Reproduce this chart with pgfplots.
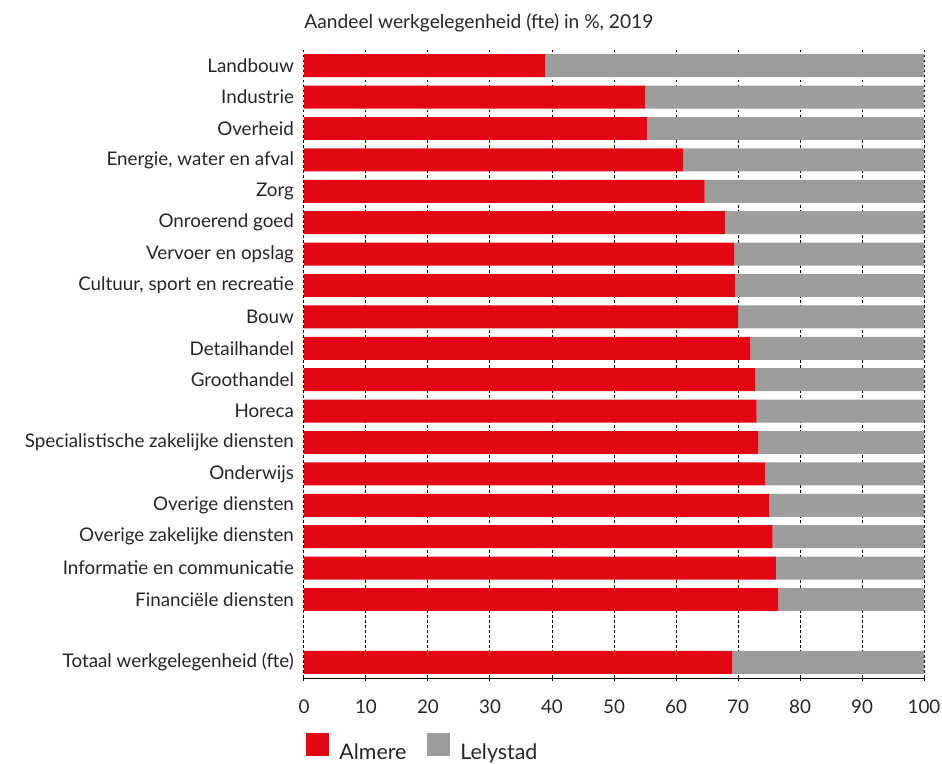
\documentclass[border=0pt]{standalone}
\usepackage{fontspec}
\setmainfont{Lato}
\usepackage{pgfplots}
\usepackage{pgfplotstable}
\pgfplotsset{compat=1.18}

\definecolor{almere}{HTML}{E30613}
\definecolor{lelystad}{HTML}{9D9D9C}
\definecolor{txt}{HTML}{262626}

% y = row position (18 is the empty gap row)
\pgfplotstableread{
y almere lelystad
0 38.9 61.1
1 55.0 45.0
2 55.4 44.6
3 61.2 38.8
4 64.6 35.4
5 67.9 32.1
6 69.4 30.6
7 69.5 30.5
8 70.0 30.0
9 72.0 28.0
10 72.8 27.2
11 73.0 27.0
12 73.3 26.7
13 74.4 25.6
14 75.0 25.0
15 75.6 24.4
16 76.1 23.9
17 76.5 23.5
19 69.1 30.9
}\shares

\begin{document}
\begin{tikzpicture}
\begin{axis}[
    name=ax,
    scale only axis,
    width=310pt, height=314pt,
    xbar stacked,
    bar width=0.73,
    y dir=reverse,
    xmin=0, xmax=100,
    ymin=-0.5, ymax=19.5,
    xtick={0,10,...,100},
    ytick={0,1,...,17,19},
    yticklabels={Landbouw,Industrie,Overheid,{Energie, water en afval},Zorg,
      Onroerend goed,Vervoer en opslag,{Cultuur, sport en recreatie},Bouw,
      Detailhandel,Groothandel,Horeca,Specialistische zakelijke diensten,
      Onderwijs,Overige diensten,Overige zakelijke diensten,
      Informatie en communicatie,Financiële diensten,Totaal werkgelegenheid (fte)},
    axis x line*=bottom,
    axis y line*=left,
    y axis line style={draw=none},
    x axis line style={black, line width=0.5pt},
    tick align=outside,
    major tick length=1.5pt,
    xtick style={black, line width=0.5pt},
    ytick style={draw=none},
    xmajorgrids,
    major grid style={black, line width=0.5pt, dash pattern=on 1.25pt off 1.25pt},
    tick label style={font=\fontsize{9.4}{11}\selectfont, text=txt},
    /pgf/number format/assume math mode=true,
    xticklabel style={yshift=-6pt},
    title={Aandeel werkgelegenheid (fte) in \%, 2019},
    title style={at={(0,1)}, anchor=base west, yshift=4.5pt,
      font=\fontsize{9.6}{11}\selectfont, text=txt, inner sep=0pt},
    legend style={at={(0,0)}, anchor=north west, yshift=-27.5pt, xshift=1pt,
      draw=none, inner sep=0pt, font=\fontsize{10.7}{12}\selectfont, text=txt,
      /tikz/every even column/.append style={column sep=8.5pt}},
    legend columns=2,
    legend image code/.code={\fill[#1] (0pt,-1.5pt) rectangle (11.5pt,10pt);
      \path (14.5pt,0pt);},
]
\addplot[fill=almere, draw=none] table[x=almere, y=y] {\shares};
\addplot[fill=lelystad, draw=none] table[x=lelystad, y=y] {\shares};
\legend{Almere, Lelystad}
\end{axis}
\pgfresetboundingbox
\path[use as bounding box] (ax.south west) ++(-152pt,-43pt) rectangle ++(471pt,382pt);
\end{tikzpicture}
\end{document}
